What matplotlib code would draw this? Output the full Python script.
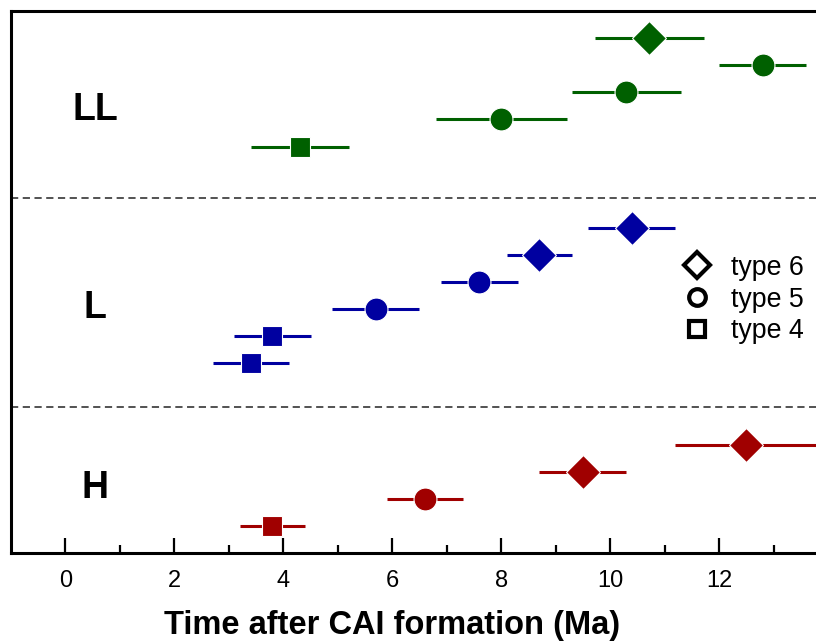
import matplotlib.pyplot as plt
from matplotlib.lines import Line2D

plt.rcParams['font.family'] = ['Liberation Sans', 'DejaVu Sans']

# (time, error, row, marker) for each chondrite group
ll_t = [10.72, 12.8, 10.3, 8.0, 4.3]
ll_err = [1.0, 0.8, 1.0, 1.2, 0.9]
ll_row = [19, 18, 17, 16, 15]
ll_type = [6, 5, 5, 5, 4]

l_t = [10.4, 8.7, 7.6, 5.7, 3.8, 3.4]
l_err = [0.8, 0.6, 0.7, 0.8, 0.7, 0.7]
l_row = [12, 11, 10, 9, 8, 7]
l_type = [6, 6, 5, 5, 4, 4]

h_t = [12.5, 9.5, 6.6, 3.8]
h_err = [1.3, 0.8, 0.7, 0.6]
h_row = [4, 3, 2, 1]
h_type = [6, 6, 5, 4]

markers = {6: ('D', 17), 5: ('o', 16.5), 4: ('s', 15)}

groups = [('LL', ll_t, ll_err, ll_row, ll_type, '#006000', 16.35),
          ('L', l_t, l_err, l_row, l_type, '#0000a0', 9.05),
          ('H', h_t, h_err, h_row, h_type, '#a00000', 2.4)]

fig = plt.figure(figsize=(8.16, 6.41), dpi=100)
ax = fig.add_axes([0.0135, 0.1373, 0.9865, 0.8455])

for name, t, err, row, typ, col, ylab in groups:
    for x, e, y, k in zip(t, err, row, typ):
        m, ms = markers[k]
        ax.errorbar(x, y, xerr=e, fmt=m, ms=ms, color=col, ecolor=col,
                    elinewidth=2.2, capsize=0, mec='white', mew=0.8)
    ax.text(0.55, ylab, name, fontsize=27, fontweight='bold', ha='center', va='center')

for yd in [5.4, 13.1]:
    ax.axhline(yd, color='#444444', ls=(0, (4, 2.5)), lw=1.3)

ax.set_xlim(-1, 13.78)
ax.set_ylim(0, 20)
ax.set_yticks([])
ax.set_xticks(range(0, 14, 2))
ax.set_xticks(range(1, 14, 2), minor=True)
ax.tick_params(axis='x', which='major', direction='in', length=11, width=1.6,
               labelsize=17, pad=12)
ax.tick_params(axis='x', which='minor', direction='in', length=6, width=1.6)
for s in ['left', 'bottom', 'top']:
    ax.spines[s].set_linewidth(2.2)
ax.spines['right'].set_visible(False)
fig.text(0.48, 0.0, 'Time after CAI formation (Ma)', fontsize=23.5,
         fontweight='bold', ha='center', va='bottom')

handles = [Line2D([], [], ls='none', marker='D', ms=13, mfc='white', mec='black', mew=3),
           Line2D([], [], ls='none', marker='o', ms=12, mfc='white', mec='black', mew=3),
           Line2D([], [], ls='none', marker='s', ms=11, mfc='white', mec='black', mew=3)]
ax.legend(handles, ['type 6', 'type 5', 'type 4'], loc='upper left',
          bbox_to_anchor=(0.801, 0.595), frameon=False, fontsize=19.3,
          handletextpad=0.62, labelspacing=0.22, handlelength=1.3)

fig.savefig('out.png', dpi=100)
